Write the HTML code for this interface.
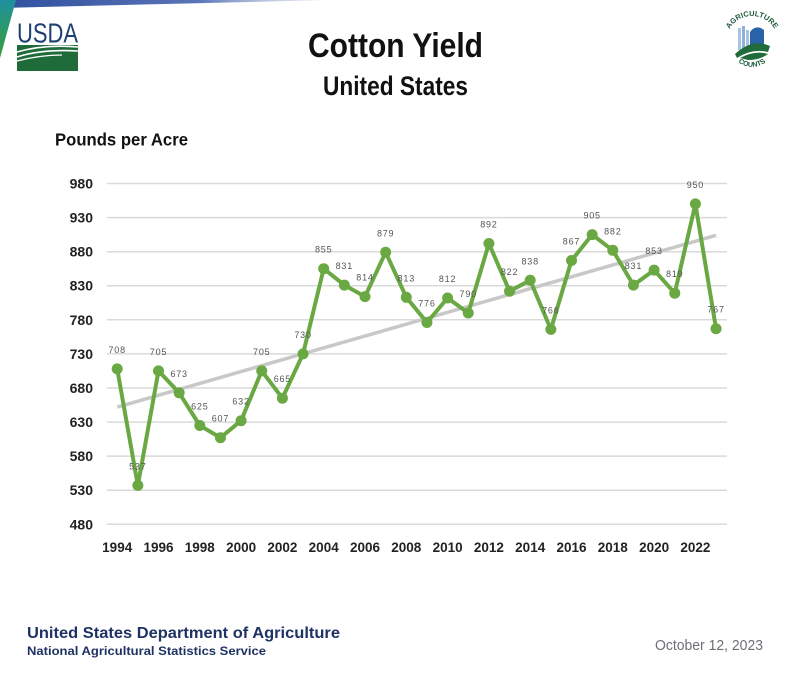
<!DOCTYPE html>
<html><head><meta charset="utf-8"><style>
html,body{margin:0;padding:0;background:#fff;}
svg{display:block;}
text{font-family:"Liberation Sans",sans-serif;}
</style></head><body>
<svg width="792" height="678" viewBox="0 0 792 678" xmlns="http://www.w3.org/2000/svg">
<defs>
<linearGradient id="band" x1="0" y1="0" x2="1" y2="0">
<stop offset="0" stop-color="#2f4f9e"/><stop offset="0.6" stop-color="#5a74b8"/><stop offset="1" stop-color="#c8cede" stop-opacity="0.3"/>
</linearGradient>
<linearGradient id="wedge" x1="0" y1="0" x2="0" y2="1">
<stop offset="0" stop-color="#1f8fa0"/><stop offset="0.5" stop-color="#2a9a6a"/><stop offset="1" stop-color="#3a9a3a"/>
</linearGradient>
<path id="arcTop" d="M726,42 A26,26 0 0 1 778,42"/>
<path id="arcBot" d="M733,56 A22,22 0 0 0 771,56"/>
</defs>
<rect width="792" height="678" fill="#fff"/>
<!-- top decorative band -->
<polygon points="0,0 330,0 0,8" fill="url(#band)"/>
<polygon points="0,0 16,0 0,58" fill="url(#wedge)"/>
<!-- USDA logo -->
<text x="17" y="42.5" font-family="Liberation Serif,serif" font-size="28" fill="#1d3f73" textLength="61" lengthAdjust="spacingAndGlyphs">USDA</text>
<rect x="17" y="45" width="61" height="26" fill="#1f6b3a"/>
<path d="M17,52 Q45,44 78,47" stroke="#fff" stroke-width="1.6" fill="none"/>
<path d="M17,57 Q42,49 78,51" stroke="#fff" stroke-width="1.6" fill="none"/>
<path d="M17,61 Q40,55 62,55" stroke="#fff" stroke-width="1.2" fill="none"/>
<!-- Agriculture Counts logo -->
<circle cx="752" cy="42" r="18" fill="#fff"/>
<rect x="738" y="28" width="3" height="22" fill="#a9c3e0"/>
<rect x="742" y="26" width="3" height="24" fill="#8fb0d8"/>
<rect x="746" y="30" width="3" height="20" fill="#a9c3e0"/>
<path d="M750,50 L750,32 Q756,24 764,30 L764,50 Z" fill="#2a62a8"/>
<path d="M735,54 Q752,38 770,46 L768,52 Q752,48 737,58 Z" fill="#1f6b3a"/>
<path d="M740,58 Q755,50 768,54 Q760,60 748,60 Z" fill="#1f6b3a"/>
<text font-size="7.5" font-weight="bold" fill="#1d5a3a" font-family="Liberation Serif,serif"><textPath href="#arcTop" startOffset="50%" text-anchor="middle">AGRICULTURE</textPath></text>
<text font-size="7" font-weight="bold" fill="#1d5a3a" font-family="Liberation Serif,serif"><textPath href="#arcBot" startOffset="50%" text-anchor="middle">COUNTS</textPath></text>
<!-- titles -->
<text x="308" y="57" font-size="34" font-weight="bold" fill="#111" textLength="175" lengthAdjust="spacingAndGlyphs">Cotton Yield</text>
<text x="323" y="95" font-size="27" font-weight="bold" fill="#111" textLength="145" lengthAdjust="spacingAndGlyphs">United States</text>
<text x="55" y="145.5" font-size="17.5" font-weight="bold" fill="#111" textLength="133" lengthAdjust="spacingAndGlyphs">Pounds per Acre</text>
<!-- gridlines -->
<g stroke="#dadada" stroke-width="1.5">
<line x1="107" y1="183.5" x2="727" y2="183.5"/>
<line x1="107" y1="217.6" x2="727" y2="217.6"/>
<line x1="107" y1="251.7" x2="727" y2="251.7"/>
<line x1="107" y1="285.7" x2="727" y2="285.7"/>
<line x1="107" y1="319.8" x2="727" y2="319.8"/>
<line x1="107" y1="353.9" x2="727" y2="353.9"/>
<line x1="107" y1="388.0" x2="727" y2="388.0"/>
<line x1="107" y1="422.1" x2="727" y2="422.1"/>
<line x1="107" y1="456.1" x2="727" y2="456.1"/>
<line x1="107" y1="490.2" x2="727" y2="490.2"/>
<line x1="107" y1="524.3" x2="727" y2="524.3"/>
</g>
<!-- y labels -->
<g font-size="14" font-weight="bold" fill="#222" text-anchor="end">
<text x="93" y="188.5">980</text>
<text x="93" y="222.6">930</text>
<text x="93" y="256.7">880</text>
<text x="93" y="290.7">830</text>
<text x="93" y="324.8">780</text>
<text x="93" y="358.9">730</text>
<text x="93" y="393.0">680</text>
<text x="93" y="427.1">630</text>
<text x="93" y="461.1">580</text>
<text x="93" y="495.2">530</text>
<text x="93" y="529.3">480</text>
</g>
<!-- x labels -->
<g font-size="13.5" font-weight="bold" fill="#222" text-anchor="middle">
<text x="117.2" y="552">1994</text>
<text x="158.5" y="552">1996</text>
<text x="199.8" y="552">1998</text>
<text x="241.1" y="552">2000</text>
<text x="282.4" y="552">2002</text>
<text x="323.7" y="552">2004</text>
<text x="365.0" y="552">2006</text>
<text x="406.3" y="552">2008</text>
<text x="447.6" y="552">2010</text>
<text x="488.9" y="552">2012</text>
<text x="530.2" y="552">2014</text>
<text x="571.5" y="552">2016</text>
<text x="612.8" y="552">2018</text>
<text x="654.1" y="552">2020</text>
<text x="695.4" y="552">2022</text>
</g>
<!-- trend line -->
<line x1="117.2" y1="407.1" x2="716.1" y2="235.3" stroke="#c8c8c8" stroke-width="3.5"/>
<!-- series -->
<polyline fill="none" stroke="#6aa843" stroke-width="4" stroke-linejoin="round" points="117.2,368.9 137.85,485.4 158.5,370.9 179.15,392.8 199.8,425.5 220.45,437.7 241.1,420.7 261.75,370.9 282.4,398.2 303.05,353.9 323.7,268.7 344.35,285.1 365.0,296.6 385.65,252.3 406.3,297.3 426.95,322.5 447.6,298.0 468.25,313.0 488.9,243.5 509.55,291.2 530.2,280.3 550.85,329.4 571.5,260.5 592.15,234.6 612.8,250.3 633.45,285.1 654.1,270.1 674.75,293.2 695.4,203.9 716.05,328.7"/>
<g fill="#6aa843">
<circle cx="117.2" cy="368.9" r="5.5"/><circle cx="137.85" cy="485.4" r="5.5"/><circle cx="158.5" cy="370.9" r="5.5"/><circle cx="179.15" cy="392.8" r="5.5"/><circle cx="199.8" cy="425.5" r="5.5"/><circle cx="220.45" cy="437.7" r="5.5"/><circle cx="241.1" cy="420.7" r="5.5"/><circle cx="261.75" cy="370.9" r="5.5"/><circle cx="282.4" cy="398.2" r="5.5"/><circle cx="303.05" cy="353.9" r="5.5"/><circle cx="323.7" cy="268.7" r="5.5"/><circle cx="344.35" cy="285.1" r="5.5"/><circle cx="365.0" cy="296.6" r="5.5"/><circle cx="385.65" cy="252.3" r="5.5"/><circle cx="406.3" cy="297.3" r="5.5"/><circle cx="426.95" cy="322.5" r="5.5"/><circle cx="447.6" cy="298.0" r="5.5"/><circle cx="468.25" cy="313.0" r="5.5"/><circle cx="488.9" cy="243.5" r="5.5"/><circle cx="509.55" cy="291.2" r="5.5"/><circle cx="530.2" cy="280.3" r="5.5"/><circle cx="550.85" cy="329.4" r="5.5"/><circle cx="571.5" cy="260.5" r="5.5"/><circle cx="592.15" cy="234.6" r="5.5"/><circle cx="612.8" cy="250.3" r="5.5"/><circle cx="633.45" cy="285.1" r="5.5"/><circle cx="654.1" cy="270.1" r="5.5"/><circle cx="674.75" cy="293.2" r="5.5"/><circle cx="695.4" cy="203.9" r="5.5"/><circle cx="716.05" cy="328.7" r="5.5"/>
</g>
<!-- data labels -->
<g font-size="9" fill="#555" text-anchor="middle" letter-spacing="0.8">
<text x="117.2" y="353">708</text>
<text x="137.85" y="469.5">537</text>
<text x="158.5" y="355">705</text>
<text x="179.15" y="377">673</text>
<text x="199.8" y="409.5">625</text>
<text x="220.45" y="421.7">607</text>
<text x="241.1" y="404.7">632</text>
<text x="261.75" y="355">705</text>
<text x="282.4" y="382.2">665</text>
<text x="303.05" y="338">730</text>
<text x="323.7" y="252.7">855</text>
<text x="344.35" y="269.1">831</text>
<text x="365.0" y="280.6">814</text>
<text x="385.65" y="236.3">879</text>
<text x="406.3" y="281.3">813</text>
<text x="426.95" y="306.5">776</text>
<text x="447.6" y="282">812</text>
<text x="468.25" y="297">790</text>
<text x="488.9" y="227.5">892</text>
<text x="509.55" y="275.2">822</text>
<text x="530.2" y="264.3">838</text>
<text x="550.85" y="313.4">766</text>
<text x="571.5" y="244.5">867</text>
<text x="592.15" y="218.6">905</text>
<text x="612.8" y="234.3">882</text>
<text x="633.45" y="269.1">831</text>
<text x="654.1" y="254.1">853</text>
<text x="674.75" y="277.2">819</text>
<text x="695.4" y="187.9">950</text>
<text x="716.05" y="312.7">767</text>
</g>
<!-- footer -->
<text x="27" y="638" font-size="16" font-weight="bold" fill="#1f3264" textLength="313" lengthAdjust="spacingAndGlyphs">United States Department of Agriculture</text>
<text x="27" y="655" font-size="12" font-weight="bold" fill="#1f3264" textLength="239" lengthAdjust="spacingAndGlyphs">National Agricultural Statistics Service</text>
<text x="655" y="650" font-size="15" fill="#6e6e78" textLength="108" lengthAdjust="spacingAndGlyphs">October 12, 2023</text>
</svg>
</body></html>
